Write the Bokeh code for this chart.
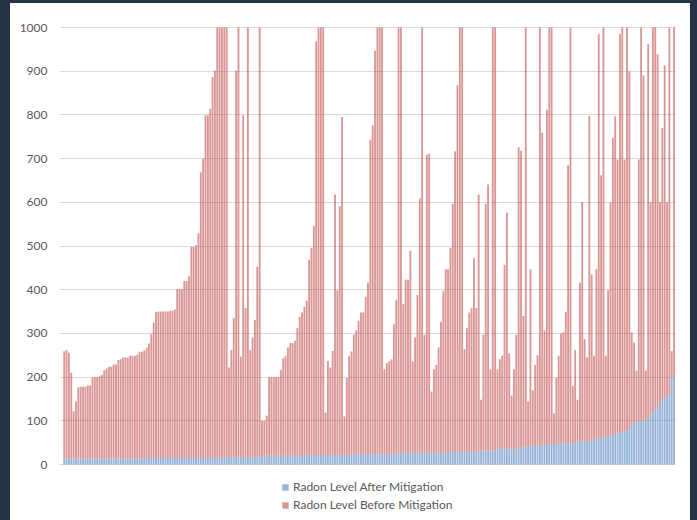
from bokeh.plotting import figure
from bokeh.models import Range1d, ColumnDataSource, Legend, LegendItem, FixedTicker, GlobalInlineStyleSheet
from bokeh.embed import file_html
from bokeh.resources import INLINE

# Radon level before mitigation, one bar per home
before = [
    259, 262, 256, 210, 122, 144, 177, 178, 178, 178, 181, 181, 199, 200, 200, 202, 205, 216, 220, 224,
    224, 229, 229, 239, 241, 245, 245, 245, 249, 249, 249, 251, 258, 258, 261, 267, 277, 299, 325, 349,
    350, 350, 350, 350, 350, 352, 352, 355,
    401, 401, 401, 420, 420, 431, 498, 498, 502, 529, 669, 699, 799, 799, 814, 887, 901, 1000, 1000, 1000,
    1000, 1000, 222, 262, 335, 901, 1000, 247, 799, 358, 1000, 262, 291, 331, 453, 1000, 100, 100, 112, 200,
    200, 200, 200, 200, 216, 243,
    249, 268, 278, 278, 283, 312, 338, 348, 361, 375, 469, 496, 546, 968, 1000, 1000, 1000, 119, 237, 222,
    260, 618, 399, 591, 795, 110, 198, 249, 259, 297, 307, 329, 348, 348,
    384, 416, 743, 776, 947, 1000, 1000, 1000, 218, 232, 236, 241, 321, 376, 1000, 1000, 367, 423, 423, 489,
    236, 291, 388, 609, 1000, 297, 709, 711, 167, 218, 228, 268, 327, 397, 447, 447,
    496, 597, 717, 868, 1000, 1000, 264, 312, 348, 358, 472, 358, 618, 148, 297, 597, 641, 218, 1000, 1000,
    218, 241, 249, 457, 576, 254, 158, 218, 297, 726, 718, 340, 1000,
    144, 447, 170, 228, 250, 1000, 759, 307, 812, 1000, 1000, 117, 198, 249, 300, 303, 349, 685, 1000, 180,
    262, 148, 416, 601, 287, 245, 797, 435, 249, 447,
    985, 662, 1000, 249, 399, 600, 747, 797, 698, 985, 1000, 698, 1000, 900, 302, 279, 215, 698, 1000, 890,
    215, 962, 600, 1000, 1000, 938, 600, 770, 913, 600, 1000, 260, 1000,
]

# Radon level after mitigation
after = [
    14, 14, 14, 14, 14, 14, 14, 14, 14, 14, 14, 14, 14, 14, 14, 14, 14, 14, 14, 14,
    14, 14, 14, 14, 14, 14, 14, 14, 14, 14, 14, 14, 14, 14, 14, 15, 15, 15, 15, 15,
    15, 15, 15, 15, 15, 15, 15, 15, 15, 15, 15, 15, 15, 15, 15, 15, 15, 15, 15, 15,
    15, 15, 15, 15, 15, 15, 15, 15, 15, 15, 17, 17, 17, 17, 17, 17, 17, 17, 17, 17,
    17, 17, 17, 17, 20, 20, 20, 20, 20, 20, 20, 20, 20, 20, 20, 20, 20, 20, 20, 20,
    20, 22, 22, 22, 22, 22, 22, 22, 22, 22, 22, 22, 22, 22, 22, 22, 22, 22, 22, 22,
    22, 22, 22, 24, 24, 24, 24, 24, 24, 24, 24, 24, 24, 24, 24, 24, 24, 24, 24, 24,
    24, 24, 27, 27, 27, 27, 27, 27, 27, 27, 27, 27, 27, 27, 27, 27, 27, 27, 27, 27,
    27, 27, 27, 29, 29, 29, 29, 29, 29, 29, 29, 29, 29, 29, 29, 29, 32, 32, 32, 32,
    32, 32, 32, 32, 36, 36, 36, 36, 36, 36, 36, 36, 36, 36, 41, 41, 41, 41, 41, 43,
    43, 43, 43, 43, 43, 47, 47, 47, 47, 47, 49, 49, 49, 49, 49, 49, 49, 49, 53, 53,
    53, 53, 53, 53, 53, 59, 59, 59, 59, 64, 64, 64, 64, 70, 70, 73, 73, 76, 76, 78,
    78, 94, 94, 100, 100, 100, 100, 103, 103, 116, 116, 129, 129, 139, 150, 150, 158, 158, 200, 200,
]

y_ticks = [0, 100, 200, 300, 400, 500, 600, 700, 800, 900, 1000]
series_labels = ["Radon Level After Mitigation", "Radon Level Before Mitigation"]
RED = "#C0504D"
BLUE = "#4F81BD"

n = min(len(before), len(after))
src = ColumnDataSource(dict(x=list(range(n)), before=before[:n], after=after[:n]))

p = figure(width=680, height=517, output_backend="svg", toolbar_location=None,
           x_range=Range1d(-2.0, n - 0.4), y_range=Range1d(-128, 1002.3),
           min_border_left=49, min_border_right=15, min_border_top=23, min_border_bottom=0)
p.margin = (3, 7, 0, 10)
p.styles = {"background-color": "white"}
p.stylesheets = [GlobalInlineStyleSheet(css="body { background-color: #243447; }")]
p.border_fill_color = "white"
p.background_fill_color = "white"
p.outline_line_color = None

r_after = p.vbar(x="x", top="after", bottom=0, width=0.78, source=src,
                 fill_color=BLUE, fill_alpha=0.6, line_color=None)
r_before = p.vbar(x="x", top="before", bottom="after", width=0.78, source=src,
                  fill_color=RED, fill_alpha=0.6, line_color=None)

p.xaxis.visible = False
p.xgrid.visible = False
p.yaxis.ticker = FixedTicker(ticks=y_ticks)
p.ygrid.ticker = FixedTicker(ticks=y_ticks)
p.ygrid.grid_line_color = "#D9D9D9"
p.ygrid.grid_line_width = 1
p.yaxis.axis_line_color = None
p.yaxis.major_tick_line_color = None
p.yaxis.minor_tick_line_color = None
p.yaxis.major_tick_out = 0
p.yaxis.major_label_standoff = 12
p.yaxis.major_label_text_font = "Lato"
p.yaxis.major_label_text_font_size = "12px"
p.yaxis.major_label_text_color = "#595959"

legend = Legend(items=[LegendItem(label=series_labels[0], renderers=[r_after]),
                       LegendItem(label=series_labels[1], renderers=[r_before])],
                orientation="vertical", location=(222, 8))
legend.margin = 0
legend.padding = 0
legend.spacing = 3
legend.label_height = 14
legend.glyph_height = 8
legend.glyph_width = 8
legend.label_standoff = 4
legend.label_text_font = "Lato"
legend.label_text_font_size = "12px"
legend.label_text_color = "#595959"
legend.border_line_color = None
legend.background_fill_alpha = 0
p.add_layout(legend)

open("out.html", "w").write(file_html(p, INLINE))
